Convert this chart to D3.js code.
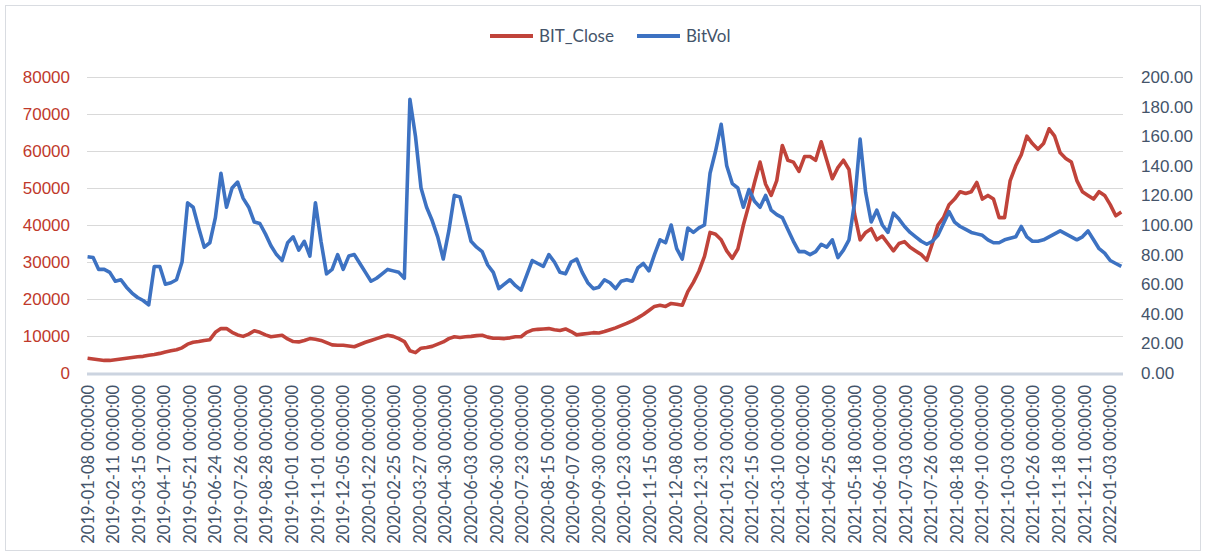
<!DOCTYPE html>
<html>
<head>
<meta charset="utf-8">
<script src="https://cdn.jsdelivr.net/npm/d3@7"></script>
<style>
  html, body { margin: 0; padding: 0; background: #fff; }
  svg { display: block; font-family: Lato, "Open Sans", sans-serif; }
</style>
</head>
<body>
<div id="chart"></div>
<script>
// Category axis: one point per trading/calendar day, labels every 23 points
const N_POINTS = 932;
const LABEL_STEP = 23;
const SAMPLE_STEP = 5; // values below are read every 5th category

const tickLabels = [
  "2019-01-08", "2019-02-11", "2019-03-15", "2019-04-17", "2019-05-21", "2019-06-24",
  "2019-07-26", "2019-08-28", "2019-10-01", "2019-11-01", "2019-12-05", "2020-01-22",
  "2020-02-25", "2020-03-27", "2020-04-30", "2020-06-03", "2020-06-30", "2020-07-23",
  "2020-08-15", "2020-09-07", "2020-09-30", "2020-10-23", "2020-11-15", "2020-12-08",
  "2020-12-31", "2021-01-23", "2021-02-15", "2021-03-10", "2021-04-02", "2021-04-25",
  "2021-05-18", "2021-06-10", "2021-07-03", "2021-07-26", "2021-08-18", "2021-09-10",
  "2021-10-03", "2021-10-26", "2021-11-18", "2021-12-11", "2022-01-03"
].map(d => d + " 00:00:00");

const closeValues = [
  4000, 3800, 3600, 3400, 3400, 3600, 3800, 4000, 4200, 4400,
  4500, 4800, 5000, 5300, 5700, 6000, 6300, 6800, 7800, 8300,
  8500, 8800, 9000, 11000, 12000, 12000, 11000, 10300, 9900, 10500,
  11400, 11000, 10300, 9800, 10000, 10200, 9200, 8500, 8400, 8800,
  9300, 9100, 8800, 8200, 7600, 7500, 7500, 7300, 7100, 7700,
  8300, 8800, 9300, 9800, 10200, 9900, 9300, 8500, 6000, 5500,
  6700, 6900, 7200, 7800, 8400, 9300, 9800, 9600, 9800, 9900,
  10100, 10200, 9700, 9400, 9400, 9300, 9500, 9800, 9800, 11000,
  11600, 11800, 11900, 12000, 11700, 11500, 11900, 11200, 10300, 10500,
  10700, 10900, 10800, 11200, 11700, 12200, 12800, 13400, 14100, 14900,
  15800, 16900, 18000, 18300, 18000, 18800, 18600, 18300, 22000, 24500,
  27500, 31500, 38000, 37500, 36000, 33000, 31000, 33500, 40000, 45500,
  51500, 57000, 51000, 48000, 52000, 61500, 57500, 57000, 54500, 58500,
  58500, 57500, 62500, 57500, 52500, 55500, 57500, 55000, 43000, 36000,
  38000, 39000, 36000, 37000, 35000, 33000, 35000, 35500, 34000, 33000,
  32000, 30500, 35000, 40000, 42000, 45500, 47000, 49000, 48500, 49000,
  51500, 47000, 48000, 47000, 42000, 42000, 52000, 56000, 59000, 64000,
  62000, 60500, 62000, 66000, 64000, 59500, 58000, 57000, 52000, 49000,
  48000, 47000, 49000, 48000, 45500, 42500, 43500
];

const volValues = [
  78.5, 78, 70, 70, 68, 62, 63, 58, 54, 51,
  49, 46, 72, 72, 60, 61, 63, 75, 115, 112,
  98, 85, 88, 105, 135, 112, 125, 129, 118, 112,
  102, 101, 94, 86, 80, 76, 88, 92, 83, 89,
  79, 115, 89, 67, 70, 80, 70, 79, 80, 74,
  68, 62, 64, 67, 70, 69, 68, 64, 185, 160,
  125, 112, 103, 92, 77, 96, 120, 119, 104, 89,
  85, 82, 73, 68, 57, 60, 63, 59, 56, 66,
  76, 74, 72, 80, 75, 68, 67, 75, 77, 68,
  61, 57, 58, 63, 61, 57, 62, 63, 62, 71,
  74, 69, 80, 90, 88, 100, 84, 77, 98, 95,
  98, 100, 135, 150, 168, 140, 128, 125, 112, 124,
  116, 112, 120, 110, 107, 105, 97, 89, 82, 82,
  80, 82, 87, 85, 90, 78, 83, 90, 115, 158,
  122, 102, 110, 100, 95, 108, 104, 99, 95, 92,
  89, 87, 89, 93, 101, 109, 102, 99, 97, 95,
  94, 93, 90, 88, 88, 90, 91, 92, 99, 92,
  89, 89, 90, 92, 94, 96, 94, 92, 90, 92,
  96, 90, 84, 81, 76, 74, 72
];

const seriesNames = ["BIT_Close", "BitVol"];
const seriesColors = ["#c0433a", "#3d72c2"];

const width = 1206, height = 556;
const plot = { left: 87, right: 1123, top: 77, bottom: 373 };

const svg = d3.select("#chart").append("svg")
  .attr("width", width)
  .attr("height", height);

// outer chart frame
svg.append("rect")
  .attr("x", 5.5).attr("y", 5.5)
  .attr("width", width - 11).attr("height", height - 11)
  .attr("fill", "#fff")
  .attr("stroke", "#d9dce1");

const x = d3.scaleLinear().domain([-0.5, N_POINTS - 0.5]).range([plot.left, plot.right]);
const yLeft = d3.scaleLinear().domain([0, 80000]).range([plot.bottom, plot.top]);
const yRight = d3.scaleLinear().domain([0, 200]).range([plot.bottom, plot.top]);

// gridlines
svg.append("g")
  .selectAll("line")
  .data(yLeft.ticks(8).filter(d => d > 0))
  .join("line")
  .attr("x1", plot.left).attr("x2", plot.right)
  .attr("y1", d => Math.round(yLeft(d)) + 0.5)
  .attr("y2", d => Math.round(yLeft(d)) + 0.5)
  .attr("stroke", "#d9d9d9");

// left axis (red labels)
const leftAxis = svg.append("g")
  .attr("transform", `translate(${plot.left - 17},0)`)
  .call(d3.axisLeft(yLeft).ticks(8).tickSize(0).tickPadding(0).tickFormat(d3.format("d")));
leftAxis.select(".domain").remove();
leftAxis.selectAll("text")
  .attr("fill", "#c0392b")
  .style("font-size", "17px");

// right axis
const rightAxis = svg.append("g")
  .attr("transform", `translate(${plot.right + 18},0)`)
  .call(d3.axisRight(yRight).ticks(10).tickSize(0).tickPadding(0).tickFormat(d3.format(".2f")));
rightAxis.select(".domain").remove();
rightAxis.selectAll("text")
  .attr("fill", "#44546a")
  .style("font-size", "17px");

// bottom category axis
svg.append("line")
  .attr("x1", plot.left).attr("x2", plot.right)
  .attr("y1", plot.bottom + 1).attr("y2", plot.bottom + 1)
  .attr("stroke", "#ccd4e0")
  .attr("stroke-width", 3);

svg.append("g")
  .selectAll("text")
  .data(tickLabels)
  .join("text")
  .attr("transform", (d, i) => `translate(${x(i * LABEL_STEP)},${plot.bottom + 12}) rotate(-90)`)
  .attr("dy", "0.36em")
  .attr("text-anchor", "end")
  .attr("fill", "#44546a")
  .style("font-size", "16.5px")
  .text(d => d);

// lines
const closeData = closeValues.map((v, i) => ({ idx: i * SAMPLE_STEP, v }));
const volData = volValues.map((v, i) => ({ idx: i * SAMPLE_STEP, v }));

svg.append("path")
  .datum(closeData)
  .attr("fill", "none")
  .attr("stroke", seriesColors[0])
  .attr("stroke-width", 3.6)
  .attr("stroke-linejoin", "round")
  .attr("d", d3.line().x(d => x(d.idx)).y(d => yLeft(d.v)));

svg.append("path")
  .datum(volData)
  .attr("fill", "none")
  .attr("stroke", seriesColors[1])
  .attr("stroke-width", 3.6)
  .attr("stroke-linejoin", "round")
  .attr("d", d3.line().x(d => x(d.idx)).y(d => yRight(d.v)));

// legend
const legendItems = [
  { name: seriesNames[0], color: seriesColors[0], x: 490 },
  { name: seriesNames[1], color: seriesColors[1], x: 637 }
];
const legend = svg.append("g").attr("transform", "translate(0,36)");
legendItems.forEach(item => {
  legend.append("line")
    .attr("x1", item.x).attr("x2", item.x + 43)
    .attr("stroke", item.color)
    .attr("stroke-width", 4);
  legend.append("text")
    .attr("x", item.x + 49)
    .attr("dy", "0.35em")
    .attr("fill", "#44546a")
    .style("font-size", "17px")
    .text(item.name);
});
</script>
</body>
</html>
